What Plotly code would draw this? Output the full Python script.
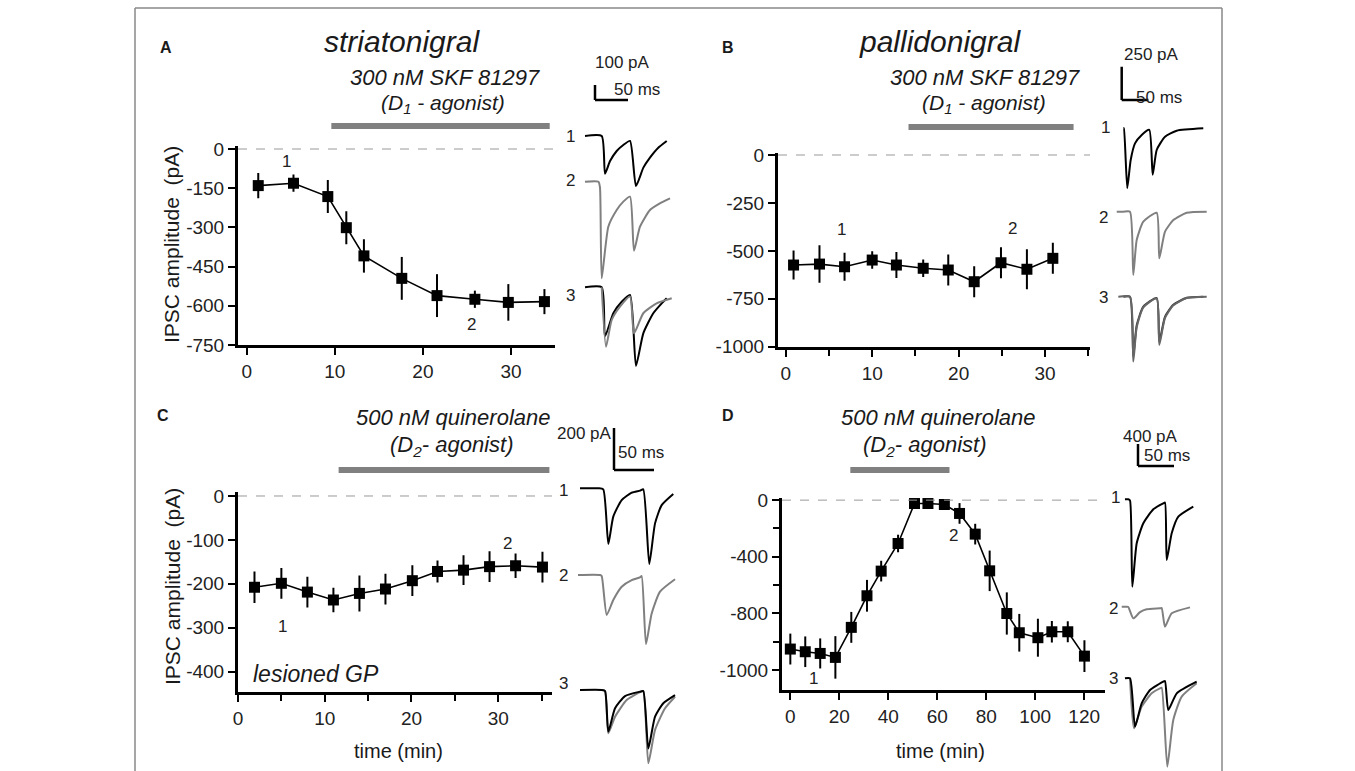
import plotly.graph_objects as go

W, H = 1355, 771
FONT = "Liberation Sans, Arial, sans-serif"
GRAY = "#808080"

# ---------------- summary data ----------------
a_time = [1.3, 5.3, 9.2, 11.3, 13.3, 17.6, 21.6, 25.9, 29.7, 33.8]
a_ipsc = [-140, -131, -182, -301, -409, -495, -561, -575, -587, -584]
a_err = [48, 33, 63, 63, 64, 82, 82, 33, 70, 48]

b_time = [0.9, 3.9, 6.8, 10.0, 12.8, 15.9, 18.8, 21.8, 24.9, 27.9, 30.9]
b_ipsc = [-574, -569, -583, -548, -574, -591, -600, -661, -562, -596, -539]
b_err = [76, 98, 73, 46, 68, 46, 81, 81, 81, 104, 81]

c_time = [1.9, 5.0, 8.0, 11.0, 14.0, 17.0, 20.1, 23.0, 26.0, 29.0, 32.0, 35.1]
c_ipsc = [-208, -199, -219, -237, -222, -212, -193, -172, -169, -161, -159, -162]
c_err = [36, 35, 35, 28, 41, 35, 35, 25, 34, 35, 28, 35]

d_time = [0.0, 6.1, 12.2, 18.4, 24.9, 31.3, 37.1, 44.0, 50.7, 56.2, 62.9, 69.1,
          75.5, 81.4, 88.4, 93.5, 101.1, 106.8, 113.3, 120.1]
d_ipsc = [-1051, -1070, -1082, -1110, -898, -675, -501, -306, -24, -24, -31, -94,
          -240, -499, -800, -936, -971, -929, -929, -1101]
d_err = [109, 108, 106, 150, 109, 112, 73, 62, 23, 23, 28, 73,
         73, 143, 149, 133, 134, 76, 74, 112]

# drug application windows (min)
a_drug = [9.6, 34.4]
b_drug = [14.2, 33.3]
c_drug = [11.6, 35.9]
d_drug = [24.5, 65.0]

# tick values / labels
abc_xticks = [0, 10, 20, 30]
bc_xminor = [5, 15, 25, 35]
d_xticks = [0, 20, 40, 60, 80, 100, 120]
a_yticks = [0, -150, -300, -450, -600, -750]
a_yticktext = ["0", "-150", "-300", "-450", "-600", "-750"]
b_yticks = [0, -250, -500, -750, -1000]
b_yticktext = ["0", "-250", "-500", "-750", "-1000"]
c_yticks = [0, -100, -200, -300, -400]
c_yticktext = ["0", "-100", "-200", "-300", "-400"]
d_yticks = [0, -400, -800, -1200]
d_yticktext = ["0", "-400", "-800", "-1000"]
d_yminor = [-200, -600, -1000]

# ---------------- example traces (ms, pA relative to baseline) ----------------
tA1 = [7.6, 32.9, 37.9, 45.5, 55.6, 65.6, 75.8, 84.8, 96, 106, 118.6, 131.4]
iA1 = [0, 0, -251, -167, -100, -60, -33, -333, -211, -144, -78, -33]
tA2 = [7.6, 28, 30.3, 32.9, 42.9, 55.6, 65.6, 75.8, 81.8, 90.9, 106, 121, 136.4]
iA2 = [0, 0, -40, -644, -300, -189, -133, -100, -460, -300, -189, -144, -111]
tA3k = [7.6, 32.9, 37.9, 50.5, 63.2, 75.8, 84.8, 95.9, 111, 123.8, 131.4]
iA3k = [0, 0, -327, -173, -96, -51, -524, -307, -173, -107, -73]
tA3g = [32.9, 39.4, 48, 60.6, 75.8, 81.8, 95.9, 116, 139]
iA3g = [0, -396, -218, -129, -62, -307, -173, -107, -73]

tB1 = [25, 26, 32.4, 38.8, 46.9, 59.5, 73.7, 80.1, 87.6, 103.2, 125.1, 175]
iB1 = [0, 0, -450, -238, -113, -50, -12, -350, -163, -63, -18, 0]
tB2 = [12.6, 25, 37.5, 43.7, 50.1, 62.5, 87.6, 92.5, 103.2, 118.8, 143.9, 181.4]
iB2 = [0, 0, 0, -475, -213, -75, -8, -350, -150, -63, -8, 0]
tB3g = [15.6, 37.5, 43.7, 50.1, 62.5, 87.6, 92.5, 103.2, 118.8, 143.9, 181.4]
iB3g = [0, 0, -488, -230, -80, -13, -363, -160, -65, -10, 0]
tB3k = [25, 37.5, 43.7, 50.1, 62.5, 87.6, 92.5, 103.2, 118.8, 143.9, 175]
iB3k = [0, 0, -450, -215, -75, -10, -338, -150, -60, -8, 0]

tC1 = [12.5, 35.4, 41.6, 47.9, 54.1, 64.6, 77.1, 87.5, 91.6, 99.1, 106.3, 114.6, 129.1]
iC1 = [0, 0, -5, -265, -135, -56, -21, -11, -5, -360, -167, -80, -27]
tC2 = [10, 37.5, 39.6, 45.9, 54.1, 64.6, 77.1, 87.5, 89.6, 95, 102.1, 112.5, 131.3]
iC2 = [0, 0, -5, -190, -119, -56, -24, -11, -5, -329, -183, -79, -20]
tC3k = [12.5, 39.6, 43.8, 47.9, 56.3, 68.8, 87.5, 91.6, 97.9, 106.3, 116.6, 131.3]
iC3k = [0, 0, -5, -198, -87, -29, -8, -5, -278, -127, -63, -24]
tC3g = [39.6, 43.8, 47.9, 56.3, 70.8, 87.5, 91.6, 97.9, 106.3, 118.8, 131.3]
iC3g = [0, -5, -206, -127, -48, -10, -5, -349, -190, -87, -32]

tD1 = [6.9, 11.5, 13.9, 17.1, 23.2, 32.4, 46.3, 60.1, 62.5, 64.9, 71.8, 81, 101.8]
iD1 = [0, 0, -20, -1589, -800, -436, -182, -73, -60, -1104, -618, -315, -133]
tD2 = [2.4, 9.3, 11.5, 18.5, 27.8, 37, 55.5, 57.9, 62.5, 71.8, 97.2]
iD2 = [0, 0, -5, -212, -100, -48, -30, -25, -364, -121, -12]
tD3k = [6.9, 13.9, 20.8, 30.1, 41.7, 60.1, 62.5, 67.1, 78.8, 106.5]
iD3k = [0, 0, -879, -455, -212, -61, -50, -576, -273, -61]
tD3g = [13.9, 19.4, 30.1, 44, 55.5, 57.9, 65.7, 74, 85.7, 106.5]
iD3g = [0, -909, -515, -273, -182, -170, -1606, -758, -333, -91]

# ---------------- helpers ----------------
def dom_x(p0, p1):
    return [p0 / W, p1 / W]

def dom_y(top, bottom):
    return [1 - bottom / H, 1 - top / H]

def px(p):
    return p / W

def py(q):
    return 1 - q / H

fig = go.Figure()

main_axis = dict(showline=True, linecolor="black", linewidth=3, ticks="outside",
                 ticklen=7, tickwidth=2, tickcolor="black", showgrid=False,
                 zeroline=False, tickfont=dict(size=19, color="#222", family=FONT),
                 fixedrange=True, automargin=False)

panels = [
    ("", a_time, a_ipsc, a_err, (238, 555), (146.4, 345), [-1, 35], [-750, 10]),
    ("2", b_time, b_ipsc, b_err, (778, 1090), (152.7, 346.7), [-0.9, 35.2], [-1000, 12]),
    ("3", c_time, c_ipsc, c_err, (238, 552), (491.6, 691.7), [0, 36.2], [-446, 10]),
    ("4", d_time, d_ipsc, d_err, (782, 1105), (498, 690), [-3.4, 128.5], [-1340, 15]),
]

for i, (n, xs, ys, es, xd, yd, xr, yr) in enumerate(panels):
    fig.add_trace(go.Scatter(
        x=xs, y=ys, mode="lines+markers", xaxis="x" + n, yaxis="y" + n,
        line=dict(color="black", width=1.6),
        marker=dict(symbol="square", size=11, color="black"),
        error_y=dict(type="data", array=es, visible=True, thickness=2, width=0, color="black"),
        cliponaxis=False, showlegend=False, hoverinfo="skip"))
    fig.layout["xaxis" + n] = dict(main_axis, domain=dom_x(*xd), range=xr, anchor="y" + n)
    fig.layout["yaxis" + n] = dict(main_axis, domain=dom_y(*yd), range=yr, anchor="x" + n)

minor_style = dict(ticks="outside", ticklen=6, tickwidth=2, tickcolor="black")
fig.layout.xaxis.update(tickvals=abc_xticks)
fig.layout.yaxis.update(tickvals=a_yticks, ticktext=a_yticktext)
fig.layout.xaxis2.update(tickvals=abc_xticks, minor=dict(minor_style, tickvals=bc_xminor))
fig.layout.yaxis2.update(tickvals=b_yticks, ticktext=b_yticktext)
fig.layout.xaxis3.update(tickvals=abc_xticks, minor=dict(minor_style, tickvals=bc_xminor))
fig.layout.yaxis3.update(tickvals=c_yticks, ticktext=c_yticktext)
fig.layout.xaxis4.update(tickvals=d_xticks)
fig.layout.yaxis4.update(tickvals=d_yticks, ticktext=d_yticktext,
                         minor=dict(minor_style, tickvals=d_yminor))

shapes = []
annots = []

def ann(text, x, y, size, xref="paper", yref="paper", angle=0, xanchor="center", color="#1a1a1a"):
    annots.append(dict(text=text, x=x, y=y, xref=xref, yref=yref, showarrow=False,
                       textangle=angle, xanchor=xanchor, yanchor="middle", borderpad=0,
                       font=dict(size=size, color=color, family=FONT)))

# zero dashed lines and drug bars
for n, drug, bar_py in [("", a_drug, 126), ("2", b_drug, 127), ("3", c_drug, 470), ("4", d_drug, 470)]:
    shapes.append(dict(type="line", xref=("x" + n + " domain"), yref="y" + n, x0=0, x1=1, y0=0, y1=0,
                       line=dict(color="#999", width=1, dash="dash")))
    shapes.append(dict(type="line", xref="x" + n, yref="paper", x0=drug[0], x1=drug[1],
                       y0=py(bar_py), y1=py(bar_py), line=dict(color=GRAY, width=6)))

# ---------------- insets ----------------
insets = [
    ("5", 580, 80, 0.66, 0.15, 700, 380),
    ("6", 1110, 60, 0.533, 0.133, 1220, 380),
    ("7", 570, 420, 0.8, 0.21, 690, 771),
    ("8", 1120, 430, 0.72, 0.055, 1225, 771),
]
inset_traces = {
    "5": [(tA1, iA1, "black", 136), (tA2, iA2, GRAY, 181.7), (tA3k, iA3k, "black", 287.3), (tA3g, iA3g, GRAY, 287.3)],
    "6": [(tB1, iB1, "black", 128.3), (tB2, iB2, GRAY, 211.7), (tB3k, iB3k, "#333", 296.7), (tB3g, iB3g, "#666", 296.7)],
    "7": [(tC1, iC1, "black", 488.3), (tC2, iC2, GRAY, 575), (tC3g, iC3g, GRAY, 690), (tC3k, iC3k, "black", 690)],
    "8": [(tD1, iD1, "black", 499.3), (tD2, iD2, GRAY, 606.7), (tD3g, iD3g, GRAY, 678.3), (tD3k, iD3k, "black", 678.3)],
}
trace_labels = {
    "5": [(570, 136), (570, 180), (570, 295)],
    "6": [(1105, 128), (1103, 217), (1103, 298)],
    "7": [(563, 491), (563, 575), (563, 683)],
    "8": [(1115, 497), (1113, 608), (1113, 678)],
}
scalebars = {
    "5": ((595, 100), 100, 50, "100 pA", (622, 62), (613, 89)),
    "6": ((1121.7, 100), 250, 50, "250 pA", (1151, 55), (1135, 97)),
    "7": ((614, 470), 200, 50, "200 pA", (584, 433), (617, 452)),
    "8": ((1138, 466), 400, 50, "400 pA", (1150, 436), (1143, 455)),
}

for n, x0, y0, pms, ppa, x1, y1 in insets:
    fig.layout["xaxis" + n] = dict(domain=dom_x(x0, x1), range=[0, (x1 - x0) / pms], visible=False,
                                   anchor="y" + n, fixedrange=True, automargin=False)
    fig.layout["yaxis" + n] = dict(domain=dom_y(y0, y1), range=[-(y1 - y0) / ppa, 0], visible=False,
                                   anchor="x" + n, fixedrange=True, automargin=False)
    for ts, cur, col, base_py in inset_traces[n]:
        off = -(base_py - y0) / ppa
        fig.add_trace(go.Scatter(x=ts, y=[c + off for c in cur], mode="lines", xaxis="x" + n, yaxis="y" + n,
                                 line=dict(color=col, width=2, shape="spline", smoothing=0.55),
                                 showlegend=False, hoverinfo="skip"))
    for k, (lx, ly) in enumerate(trace_labels[n]):
        ann(str(k + 1), px(lx), py(ly), 17, color="#222")
    (cx, cy), pa, ms, txt, (tx, ty), (mx, my) = scalebars[n]
    cxd = (cx - x0) / pms
    cyd = -(cy - y0) / ppa
    shapes.append(dict(type="line", xref="x" + n, yref="y" + n, x0=cxd, x1=cxd, y0=cyd, y1=cyd + pa,
                       line=dict(color="black", width=2.5)))
    shapes.append(dict(type="line", xref="x" + n, yref="y" + n, x0=cxd, x1=cxd + ms, y0=cyd, y1=cyd,
                       line=dict(color="black", width=2.5)))
    ann(txt, px(tx), py(ty), 17, color="#222")
    ann("50 ms", px(mx), py(my), 17, xanchor="left", color="#222")

# point labels "1"/"2"
for n, pts in [("", [(4.5, -49, "1"), (25.5, -673, "2")]),
               ("2", [(6.4, -388, "1"), (26.2, -382, "2")]),
               ("3", [(5.1, -298, "1"), (31.1, -108, "2")]),
               ("4", [(9.5, -1258, "1"), (66.7, -247, "2")])]:
    for x, y, t in pts:
        ann(t, x, y, 17, xref="x" + n, yref="y" + n, color="#222")

ann("<b>A</b>", px(166), py(47), 16)
ann("<b>B</b>", px(728), py(47), 16)
ann("<b>C</b>", px(163), py(415), 16)
ann("<b>D</b>", px(728), py(415), 16)
ann("<i>striatonigral</i>", px(402), py(41), 30)
ann("<i>pallidonigral</i>", px(940), py(41), 30)
ann("<i>300 nM SKF 81297</i>", px(445), py(78), 22)
ann("<i>(D<sub>1</sub> - agonist)</i>", px(443), py(104), 21)
ann("<i>300 nM SKF 81297</i>", px(985), py(78), 22)
ann("<i>(D<sub>1</sub> - agonist)</i>", px(984), py(104), 21)
ann("<i>500 nM quinerolane</i>", px(453), py(417), 22)
ann("<i>(D<sub>2</sub>- agonist)</i>", px(452), py(446), 22)
ann("<i>500 nM quinerolane</i>", px(938), py(417), 22)
ann("<i>(D<sub>2</sub>- agonist)</i>", px(925), py(446), 22)
ann("<i>lesioned GP</i>", px(252), py(674), 23, xanchor="left")
ann("IPSC amplitude  (pA)", px(172), py(245), 21, angle=-90)
ann("IPSC amplitude  (pA)", px(172), py(587), 21, angle=-90)
ann("time (min)", px(398), py(751), 20)
ann("time (min)", px(940), py(751), 20)

# frame
frame = dict(color="#888", width=1.5)
shapes.append(dict(type="line", xref="paper", yref="paper", x0=px(135), x1=px(1222), y0=py(8), y1=py(8), line=frame))
shapes.append(dict(type="line", xref="paper", yref="paper", x0=px(135), x1=px(135), y0=py(8), y1=0, line=frame))
shapes.append(dict(type="line", xref="paper", yref="paper", x0=px(1222), x1=px(1222), y0=py(8), y1=0, line=frame))

fig.update_layout(width=W, height=H, margin=dict(l=0, r=0, t=0, b=0, autoexpand=False),
                  paper_bgcolor="white", plot_bgcolor="rgba(0,0,0,0)",
                  shapes=shapes, annotations=annots, font=dict(family=FONT))

fig.write_html("out.html", config={"displayModeBar": False},
               post_script="document.body.style.margin='0px';document.body.style.overflow='hidden';")
